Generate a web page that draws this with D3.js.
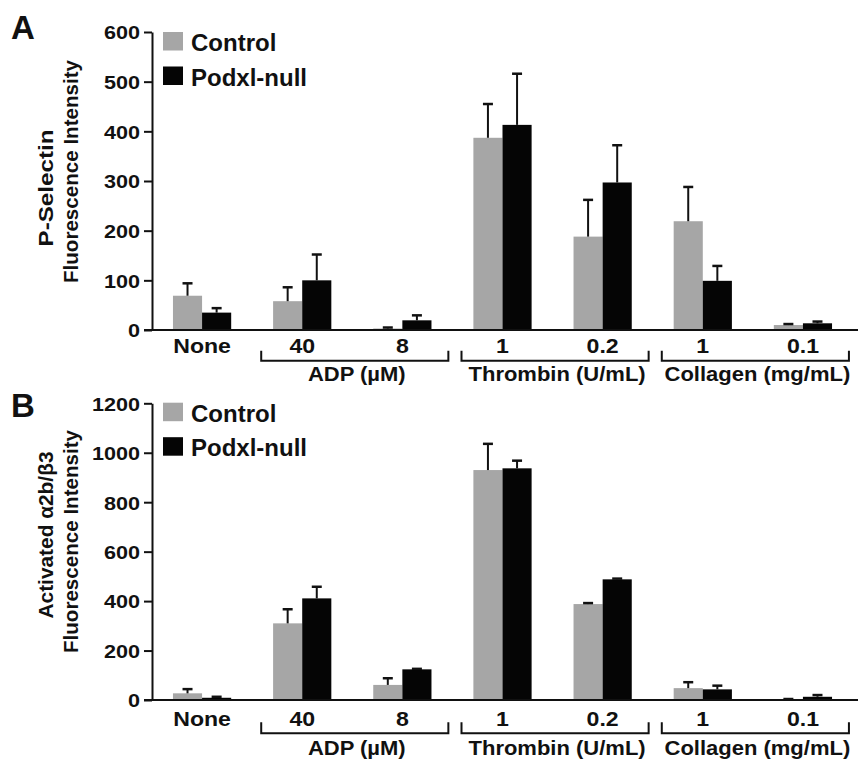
<!DOCTYPE html>
<html>
<head>
<meta charset="utf-8">
<script src="https://cdn.jsdelivr.net/npm/d3@7"></script>
<style>
  body { margin: 0; background: #fff; }
  text { font-family: "Liberation Sans", Arial, Helvetica, sans-serif; font-weight: bold; fill: #111; }
</style>
</head>
<body>
<div id="chart"></div>
<script>
// categories along the x axis (index based, labels repeat)
var categories = [0, 1, 2, 3, 4, 5, 6];
var tickLabels = ["None", "40", "8", "1", "0.2", "1", "0.1"];
var series = ["Control", "Podxl-null"];
var groupLabels = ["ADP (\u00b5M)", "Thrombin (U/mL)", "Collagen (mg/mL)"];
var groupFirst = [1, 3, 5];
var groupLast = [2, 4, 6];

// panel A: P-Selectin
var pselControl = [69, 58, 3, 387, 188, 219, 10];
var pselControlErr = [25, 28, 2, 68, 74, 69, 2];
var pselPodxl = [35, 100, 19.5, 413, 297, 99, 13.5];
var pselPodxlErr = [9, 52, 10, 103, 75, 30, 3.5];
var pselTicks = [0, 100, 200, 300, 400, 500, 600];

// panel B: activated a2b/b3
var itgControl = [27, 310, 61, 930, 388, 48, 3];
var itgControlErr = [17, 57, 27, 106, 4, 24, 1];
var itgPodxl = [9, 411, 124, 937, 488, 43, 13];
var itgPodxlErr = [4, 47, 2, 31, 3, 15, 7];
var itgTicks = [0, 200, 400, 600, 800, 1000, 1200];

var colors = { "Control": "#a6a6a6", "Podxl-null": "#050505" };

var svg = d3.select("#chart").append("svg")
    .attr("width", 860)
    .attr("height", 762);

var xScale = d3.scaleBand()
    .domain(categories)
    .range([152, 853]);

var xSub = d3.scaleBand()
    .domain(series)
    .range([0, xScale.bandwidth()])
    .paddingOuter(0.72);

var panels = [
  { letter: "A", letterY: 39, y0: 330, yTop: 32, max: 600, ticks: pselTicks,
    control: pselControl, controlErr: pselControlErr, podxl: pselPodxl, podxlErr: pselPodxlErr,
    titles: [{ t: "P-Selectin", x: 53, y: 188, len: 117 },
             { t: "Fluorescence Intensity", x: 78, y: 171.5, len: 223 }],
    legendY: 32, labelOff: 23, brTop: 20.7, brBot: 30.7, groupOff: 50.7 },
  { letter: "B", letterY: 417, y0: 700, yTop: 403.3, max: 1200, ticks: itgTicks,
    control: itgControl, controlErr: itgControlErr, podxl: itgPodxl, podxlErr: itgPodxlErr,
    titles: [{ t: "Activated \u03b12b/\u03b23", x: 53, y: 535, len: 167 },
             { t: "Fluorescence Intensity", x: 78, y: 541.5, len: 223 }],
    legendY: 402.7, labelOff: 25.7, brTop: 22.3, brBot: 33.3, groupOff: 55 }
];

panels.forEach(function(p) {
  var g = svg.append("g");
  var yScale = d3.scaleLinear()
      .domain([0, p.max])
      .range([p.y0, p.yTop]);

  // panel letter
  g.append("text")
      .attr("x", 11)
      .attr("y", p.letterY)
      .style("font-size", "33px")
      .text(p.letter);

  // y axis title (two rotated lines)
  p.titles.forEach(function(t) {
    g.append("text")
        .attr("transform", "translate(" + t.x + "," + t.y + ") rotate(-90)")
        .attr("text-anchor", "middle")
        .attr("textLength", t.len)
        .attr("lengthAdjust", "spacingAndGlyphs")
        .style("font-size", "20.5px")
        .text(t.t);
  });

  // bars
  var rows = categories.map(function(c, i) {
    return [
      { cat: c, s: "Control", v: p.control[i], e: p.controlErr[i] },
      { cat: c, s: "Podxl-null", v: p.podxl[i], e: p.podxlErr[i] }
    ];
  });
  var flat = [].concat.apply([], rows);

  g.selectAll(".bar")
    .data(flat)
    .enter()
    .append("rect")
      .attr("x", function(d) { return xScale(d.cat) + xSub(d.s); })
      .attr("y", function(d) { return yScale(d.v); })
      .attr("width", xSub.bandwidth())
      .attr("height", function(d) { return p.y0 - yScale(d.v); })
      .attr("fill", function(d) { return colors[d.s]; });

  // error bars (upper only)
  var errs = g.selectAll(".err")
    .data(flat)
    .enter()
    .append("g")
      .attr("transform", function(d) {
        return "translate(" + (xScale(d.cat) + xSub(d.s) + xSub.bandwidth() / 2) + ",0)";
      });
  errs.append("line")
      .attr("y1", function(d) { return yScale(d.v); })
      .attr("y2", function(d) { return yScale(d.v + d.e); })
      .attr("stroke", "#111")
      .attr("stroke-width", 2);
  errs.append("line")
      .attr("x1", -5).attr("x2", 5)
      .attr("y1", function(d) { return yScale(d.v + d.e); })
      .attr("y2", function(d) { return yScale(d.v + d.e); })
      .attr("stroke", "#111")
      .attr("stroke-width", 2.5);

  // y axis
  var yAxis = g.append("g")
      .attr("transform", "translate(152,0)")
      .call(d3.axisLeft(yScale).tickValues(p.ticks).tickFormat(d3.format("d"))
        .tickSize(8).tickSizeOuter(0));
  yAxis.select(".domain").attr("stroke", "#111").attr("stroke-width", 2);
  yAxis.selectAll(".tick line").attr("stroke", "#111").attr("stroke-width", 2);
  yAxis.selectAll(".tick text")
      .attr("x", -12 / 1.2)
      .attr("dy", "0.38em")
      .attr("transform", "scale(1.2,1)")
      .style("font-size", "18px")
      .style("font-family", "'Liberation Sans', Arial, sans-serif")
      .style("font-weight", "bold")
      .attr("fill", "#111");

  // x axis line
  g.append("line")
      .attr("x1", 144).attr("x2", 858)
      .attr("y1", p.y0).attr("y2", p.y0)
      .attr("stroke", "#111")
      .attr("stroke-width", 2);

  // x tick labels
  g.selectAll(".xlab")
    .data(categories)
    .enter()
    .append("text")
      .attr("transform", function(d) {
        return "translate(" + (xScale(d) + xScale.bandwidth() / 2) + "," + (p.y0 + p.labelOff) + ") scale(1.1,1)";
      })
      .attr("text-anchor", "middle")
      .style("font-size", "21px")
      .text(function(d, i) { return tickLabels[i]; });

  // group brackets
  groupLabels.forEach(function(lab, k) {
    var x1 = xScale(categories[groupFirst[k]]) + xScale.bandwidth() / 2 - 41;
    var x2 = xScale(categories[groupLast[k]]) + xScale.bandwidth() / 2 + 46;
    g.append("path")
        .attr("d", "M" + x1 + "," + (p.y0 + p.brTop) + "V" + (p.y0 + p.brBot) +
                   "H" + x2 + "V" + (p.y0 + p.brTop))
        .attr("fill", "none")
        .attr("stroke", "#111")
        .attr("stroke-width", 2);
    g.append("text")
        .attr("transform", "translate(" + ((x1 + x2) / 2 + 2) + "," + (p.y0 + p.groupOff) + ") scale(1.1,1)")
        .attr("text-anchor", "middle")
        .style("font-size", "20px")
        .text(lab);
  });

  // legend
  series.forEach(function(s, k) {
    var ly = p.legendY + k * 34.5;
    g.append("rect")
        .attr("x", 163).attr("y", ly)
        .attr("width", 20).attr("height", 18.5)
        .attr("fill", colors[s]);
    g.append("text")
        .attr("x", 191)
        .attr("y", ly + 19)
        .style("font-size", "24px")
        .text(s);
  });
});
</script>
</body>
</html>
